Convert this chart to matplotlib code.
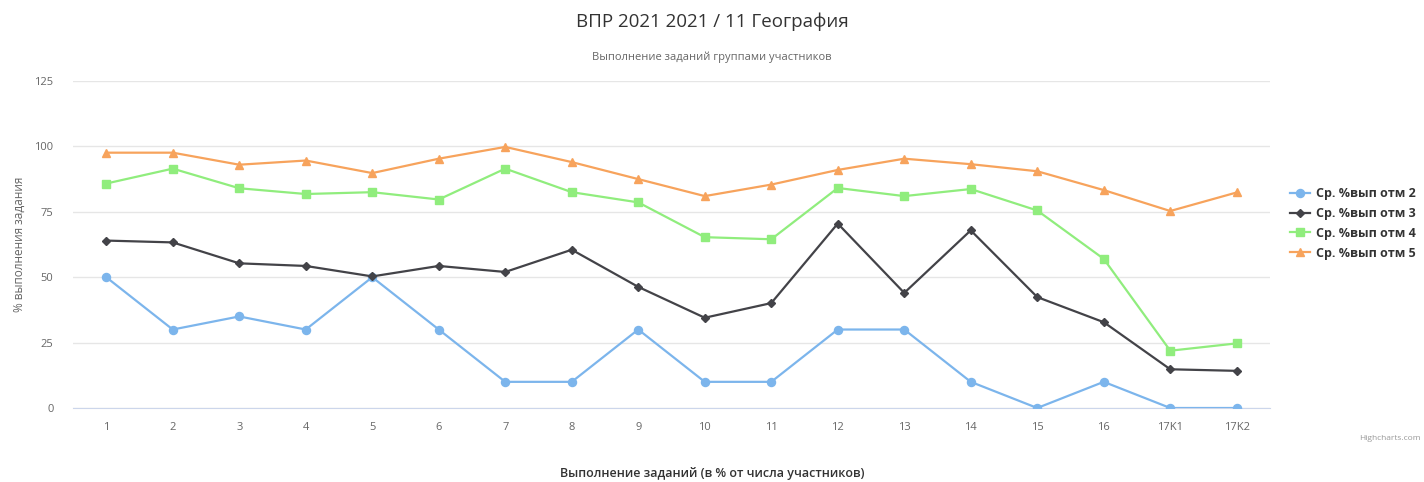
import matplotlib
matplotlib.use('Agg')
import matplotlib.pyplot as plt

# ============================================================================
# DATA
# ============================================================================
tasks = ['1', '2', '3', '4', '5', '6', '7', '8', '9', '10', '11', '12', '13', '14', '15', '16', '17K1', '17K2']
grade2 = [50, 30, 35, 30, 50, 30, 10, 10, 30, 10, 10, 30, 30, 10, 0, 10, 0, 0]
grade3 = [64, 63.3, 55.3, 54.3, 50.3, 54.3, 52, 60.5, 46.3, 34.5, 40.1, 70.5, 44, 67.9, 42.4, 32.8, 14.8, 14.2]
grade4 = [85.8, 91.5, 84, 81.8, 82.5, 79.7, 91.5, 82.5, 78.6, 65.3, 64.5, 84.1, 81, 83.7, 75.5, 57, 21.9, 24.7]
grade5 = [97.6, 97.6, 93, 94.6, 89.8, 95.3, 99.8, 94, 87.5, 81, 85.4, 91, 95.3, 93.2, 90.5, 83.3, 75.3, 82.4]
series_names = ['Ср. %вып отм 2', 'Ср. %вып отм 3', 'Ср. %вып отм 4', 'Ср. %вып отм 5']
yticks = [0, 25, 50, 75, 100, 125]

colors = ['#7cb5ec', '#434348', '#90ed7d', '#f7a35c']
markers = ['o', 'D', 's', '^']
msizes = [5.8, 4.2, 5.6, 5.8]

plt.rcParams['font.family'] = ['Open Sans', 'DejaVu Sans']

fig = plt.figure(figsize=(14.24, 4.82), dpi=100)
ax = fig.add_axes([73/1424, 1 - 408/482, (1270-73)/1424, (408-81)/482])

x = list(range(len(tasks)))
for vals, name, c, m, ms in zip([grade2, grade3, grade4, grade5], series_names, colors, markers, msizes):
    ax.plot(x, vals, color=c, lw=1.6, marker=m, markersize=ms, label=name, zorder=3)

ax.set_xlim(-0.5, len(tasks) - 0.5)
ax.set_ylim(0, 125)
ax.set_yticks(yticks)
ax.set_xticks(x)
ax.set_xticklabels(tasks)
ax.grid(axis='y', color='#e6e6e6', lw=1)
ax.set_axisbelow(True)
for s in ['top', 'right', 'left']:
    ax.spines[s].set_visible(False)
ax.spines['bottom'].set_color('#ccd6eb')
ax.tick_params(axis='both', length=0, colors='#666666', labelsize=8)
ax.tick_params(axis='x', pad=10)
ax.tick_params(axis='y', pad=14)
ax.set_ylabel('% выполнения задания', color='#666666', fontsize=8.5, labelpad=6)

fig.text(0.5, 1 - 22/482, 'ВПР 2021 2021 / 11 География', ha='center', va='center', fontsize=13.5, color='#333333')
fig.text(0.5, 1 - 57/482, 'Выполнение заданий группами участников', ha='center', va='center', fontsize=8, color='#666666')
fig.text(0.5, 1 - 474/482, 'Выполнение заданий (в % от числа участников)', ha='center', va='center',
         fontsize=9, color='#333333', fontweight='semibold')
fig.text(1421/1424, 1 - 438/482, 'Highcharts.com', ha='right', va='center', fontsize=6, color='#999999')

leg = ax.legend(loc='upper left', bbox_to_anchor=(1290/1424, 1 - 187/482), bbox_transform=fig.transFigure,
                frameon=False, prop={'weight': 'bold', 'size': 9}, labelspacing=0.55,
                handlelength=1.6, handletextpad=0.5, borderaxespad=0, borderpad=0)
for t in leg.get_texts():
    t.set_color('#333333')

plt.savefig('out.png', dpi=100)
